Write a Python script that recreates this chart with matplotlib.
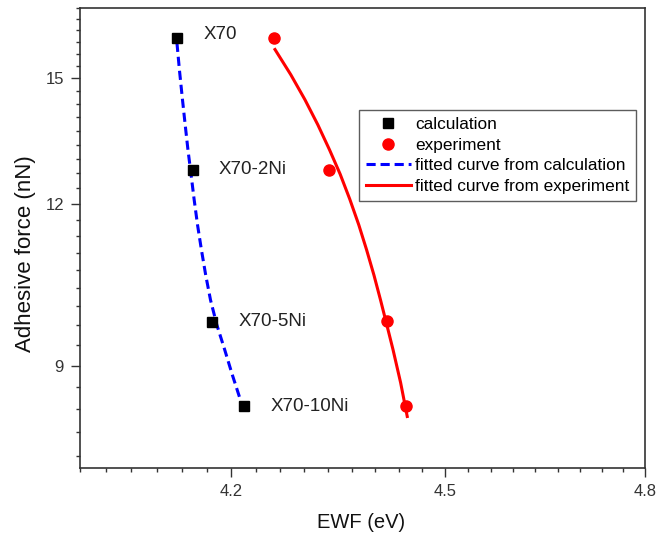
import matplotlib
matplotlib.use('Agg')
import matplotlib.pyplot as plt
from matplotlib.ticker import FixedLocator, NullFormatter, FixedFormatter
import numpy as np

plt.rcParams['font.family'] = ['Liberation Sans', 'DejaVu Sans']

# data points
labels = ['X70', 'X70-2Ni', 'X70-5Ni', 'X70-10Ni']
ewf_calc = [4.127, 4.148, 4.174, 4.217]
force_calc = [16.11, 12.75, 9.73, 8.37]
ewf_exp = [4.259, 4.334, 4.416, 4.444]
force_exp = [16.13, 12.75, 9.75, 8.38]

# fitted curves
fit_calc_x = [4.1271, 4.1304, 4.1345, 4.1381, 4.1418, 4.1459, 4.1500, 4.1546,
              4.1598, 4.1656, 4.1721, 4.1807, 4.1911, 4.2013, 4.2121]
fit_calc_y = [15.98, 15.23, 14.44, 13.81, 13.21, 12.65, 12.10, 11.56,
              11.06, 10.57, 10.11, 9.67, 9.26, 8.86, 8.48]
fit_exp_x = [4.2598, 4.2815, 4.3012, 4.3191, 4.3354, 4.3503, 4.3638, 4.3765,
             4.3875, 4.3980, 4.4074, 4.4164, 4.4251, 4.4360, 4.4455]
fit_exp_y = [15.79, 15.10, 14.44, 13.81, 13.21, 12.65, 12.10, 11.56,
             11.06, 10.57, 10.11, 9.67, 9.26, 8.73, 8.22]

fig = plt.figure(figsize=(6.57, 5.37), dpi=100)
ax = fig.add_axes([80/657, 1-468/537, 565/657, 460/537])

ax.plot(fit_calc_x, fit_calc_y, color='#0000ff', lw=2.2, ls='--', dashes=(3, 1.6),
        label='fitted curve from calculation', zorder=2)
ax.plot(fit_exp_x, fit_exp_y, color='#ff0000', lw=2.2, label='fitted curve from experiment', zorder=2)
ax.plot(ewf_calc, force_calc, 's', color='black', ms=7, ls='none', label='calculation', zorder=3)
ax.plot(ewf_exp, force_exp, 'o', color='#ff0000', ms=8, ls='none', label='experiment', zorder=3)

for x, y, t in zip(ewf_calc, force_calc, labels):
    dy = 2.5 if t == 'X70' else 0
    ax.annotate(t, (x, y), xytext=(19, dy), textcoords='offset points',
                va='center', ha='left', fontsize=13.5, color='#222222')

ax.set_xscale('log')
ax.set_yscale('log')
ax.set_xlim(4.0, 4.8)
ax.set_ylim(7.5, 17.0)

ax.xaxis.set_major_locator(FixedLocator([4.2, 4.5, 4.8]))
ax.xaxis.set_major_formatter(FixedFormatter(['4.2', '4.5', '4.8']))
ax.xaxis.set_minor_locator(FixedLocator(np.arange(4.0, 4.81, 1/30)))
ax.xaxis.set_minor_formatter(NullFormatter())
ax.yaxis.set_major_locator(FixedLocator([9, 12, 15]))
ax.yaxis.set_major_formatter(FixedFormatter(['9', '12', '15']))
ax.yaxis.set_minor_locator(FixedLocator(np.arange(7 + 2/3, 17.01, 1/3)))
ax.yaxis.set_minor_formatter(NullFormatter())

ax.tick_params(which='major', direction='out', length=6.5, width=1, labelsize=12,
               colors='#333333', labelcolor='#333333', pad=5)
ax.tick_params(which='minor', direction='out', length=3.2, width=1, colors='#333333')
for s in ax.spines.values():
    s.set_color('#333333')
    s.set_linewidth(1.2)

ax.set_xlabel('EWF (eV)', fontsize=14.5, color='#111111')
ax.xaxis.set_label_coords(0.497, -0.097)
ax.set_ylabel('Adhesive force (nN)', fontsize=16, color='#111111')
ax.yaxis.set_label_coords(-0.078, 0.467)

h, l = ax.get_legend_handles_labels()
order = [2, 3, 0, 1]
leg = ax.legend([h[i] for i in order], [l[i] for i in order], loc='upper right',
                bbox_to_anchor=(636/657, 1-110/537), bbox_transform=fig.transFigure,
                fontsize=12.4, frameon=True, fancybox=False, edgecolor='#333333',
                handlelength=2.6, handletextpad=0.25, labelspacing=0.33, borderpad=0.4,
                borderaxespad=0)
leg.get_frame().set_linewidth(1.0)

fig.savefig('out.png', dpi=100)
